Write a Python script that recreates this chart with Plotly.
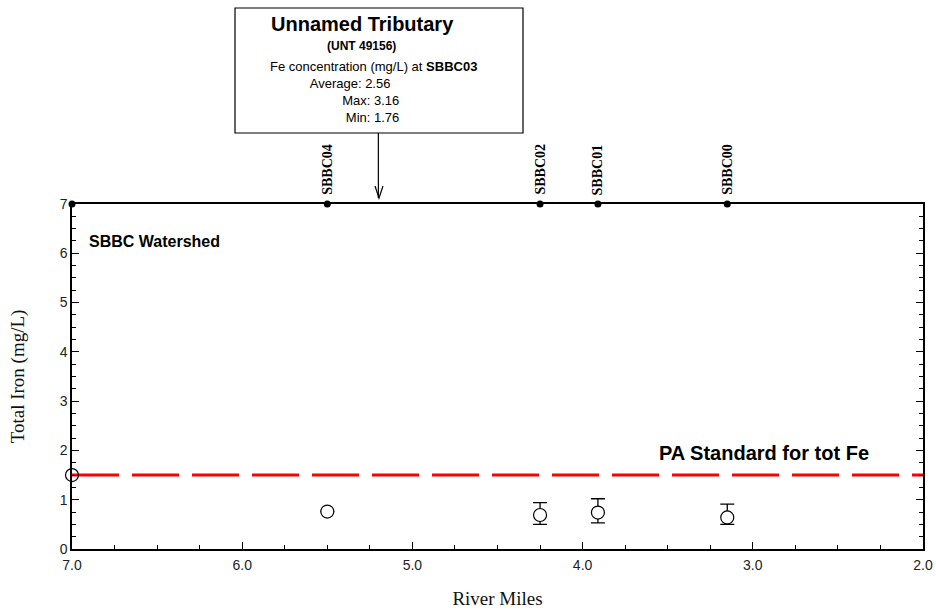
import plotly.graph_objects as go

# ---- data ----
station_names = ["SBBC04", "SBBC02", "SBBC01", "SBBC00"]
station_miles = [5.50, 4.25, 3.91, 3.15]
fe_avg = [0.76, 0.69, 0.74, 0.64]
fe_max = [0.76, 0.94, 1.02, 0.91]
fe_min = [0.76, 0.50, 0.53, 0.50]
top_dot_miles = [7.0, 5.50, 4.25, 3.91, 3.15]
pa_standard = 1.5
std_x = [7.0, 2.0]
tributary_mile = 5.2
x_ticks = [7.0, 6.0, 5.0, 4.0, 3.0, 2.0]
x_ticklabels = ["7.0", "6.0", "5.0", "4.0", "3.0", "2.0"]
y_ticks = [0, 1, 2, 3, 4, 5, 6, 7]

W, H = 936, 614
L, R, T, B = 72, 13, 204, 65
PW, PH = W - L - R, H - T - B


def px(xp):
    return (xp - L) / PW


def py(yp):
    return (H - B - yp) / PH


err_plus = [(mx - a) if mx != a else None for mx, a in zip(fe_max, fe_avg)]
err_minus = [(a - mn) if mn != a else None for mn, a in zip(fe_min, fe_avg)]

fig = go.Figure()

# PA standard line
fig.add_trace(go.Scatter(
    x=std_x, y=[pa_standard] * len(std_x), mode="lines",
    line=dict(color="#ff0000", width=3, dash="47px,13px"),
    hoverinfo="skip", showlegend=False))
fig.add_trace(go.Scatter(
    x=[std_x[0]], y=[pa_standard], mode="markers",
    marker=dict(symbol="circle-open", size=13, color="black", line=dict(width=1.2)),
    cliponaxis=False, showlegend=False))

# data points with error bars
fig.add_trace(go.Scatter(
    x=station_miles, y=fe_avg, mode="markers",
    marker=dict(symbol="circle", size=13, color="white", line=dict(color="black", width=1.2)),
    error_y=dict(type="data", symmetric=False, array=err_plus, arrayminus=err_minus,
                 color="black", thickness=1.3, width=7),
    showlegend=False))

# station dots on top axis (on the right-hand mirror axis so it is drawn)
fig.add_trace(go.Scatter(
    x=top_dot_miles, y=[7] * len(top_dot_miles), mode="markers", yaxis="y2",
    marker=dict(symbol="circle", size=7, color="black"),
    cliponaxis=False, showlegend=False))

tickfont = dict(family="Liberation Sans, Arial", size=14, color="#222")
serif = "Liberation Serif, Times New Roman"
ytick_common = dict(range=[0, 7], tickvals=y_ticks,
                    ticks="inside", ticklen=7, tickwidth=1.3, tickcolor="black",
                    minor=dict(dtick=0.25, ticks="inside", ticklen=4, tickwidth=1.3, tickcolor="black"),
                    showline=True, linecolor="black", linewidth=1.5,
                    showgrid=False, zeroline=False, automargin=False)

fig.update_layout(
    width=W, height=H,
    margin=dict(l=L, r=R, t=T, b=B),
    paper_bgcolor="white", plot_bgcolor="white",
    xaxis=dict(range=[7, 2], tickvals=x_ticks, ticktext=x_ticklabels,
               ticks="inside", ticklen=7, tickwidth=1.3, tickcolor="black",
               minor=dict(dtick=0.25, ticks="inside", ticklen=4, tickwidth=1.3, tickcolor="black"),
               showline=True, linecolor="black", linewidth=1.5, mirror=True,
               showgrid=False, zeroline=False, tickfont=tickfont, automargin=False,
               ticklabelstandoff=2,
               title=dict(text="River Miles", font=dict(family=serif, size=19, color="#111"),
                          standoff=20)),
    yaxis=dict(**ytick_common, tickfont=tickfont,
               title=dict(text="Total Iron (mg/L)", font=dict(family=serif, size=19, color="#111"),
                          standoff=30)),
    yaxis2=dict(**ytick_common, overlaying="y", side="right", showticklabels=False),
)

annotations = []
# station labels (rotated)
for name, m in zip(station_names, station_miles):
    annotations.append(dict(x=m, xref="x", y=1, yref="paper", yanchor="bottom", xanchor="center",
                            yshift=7, text=name, textangle=-90, showarrow=False,
                            font=dict(family=serif, size=14, color="black", weight="bold")))

annotations.append(dict(x=px(87), y=py(241), xref="paper", yref="paper", xanchor="left", yanchor="middle",
                        text="<b>SBBC Watershed</b>", showarrow=False,
                        font=dict(family="Liberation Sans, Arial", size=16, color="black")))
annotations.append(dict(x=px(764), y=py(453), xref="paper", yref="paper", xanchor="center", yanchor="middle",
                        text="<b>PA Standard for tot Fe</b>", showarrow=False,
                        font=dict(family="Liberation Sans, Arial", size=20, color="black")))

# tributary box text
sans = "Liberation Sans, Arial"
annotations.append(dict(x=px(362), y=py(24), xref="paper", yref="paper", xanchor="center", yanchor="middle",
                        text="<b>Unnamed Tributary</b>", showarrow=False,
                        font=dict(family=sans, size=20, color="black")))
annotations.append(dict(x=px(361), y=py(46), xref="paper", yref="paper", xanchor="center", yanchor="middle",
                        text="<b>(UNT 49156)</b>", showarrow=False,
                        font=dict(family=sans, size=12, color="black")))
nb = "\u00a0"
stats_text = "<br>".join([
    "Fe concentration (mg/L) at <b>SBBC03</b>",
    nb * 11 + "Average: 2.56",
    nb * 20 + "Max: 3.16",
    nb * 21 + "Min: 1.76",
])
annotations.append(dict(x=px(268), y=py(57), xref="paper", yref="paper", xanchor="left", yanchor="top",
                        align="left", text=stats_text, showarrow=False,
                        font=dict(family=sans, size=13, color="black")))
fig.update_layout(annotations=annotations)

# box and arrow
shapes = [
    dict(type="rect", xref="paper", yref="paper", x0=px(235), x1=px(523), y0=py(133), y1=py(8),
         line=dict(color="black", width=1.2), fillcolor="white", layer="above"),
    dict(type="line", xref="x", yref="paper", x0=tributary_mile, x1=tributary_mile, y0=py(133), y1=py(198),
         line=dict(color="black", width=1.2)),
    dict(type="path", xref="paper", yref="paper",
         path=f"M {px(375)} {py(186)} L {px(379)} {py(198)} L {px(383)} {py(186)}",
         line=dict(color="black", width=1.2)),
]
fig.update_layout(shapes=shapes)

fig.write_html("out.html")
